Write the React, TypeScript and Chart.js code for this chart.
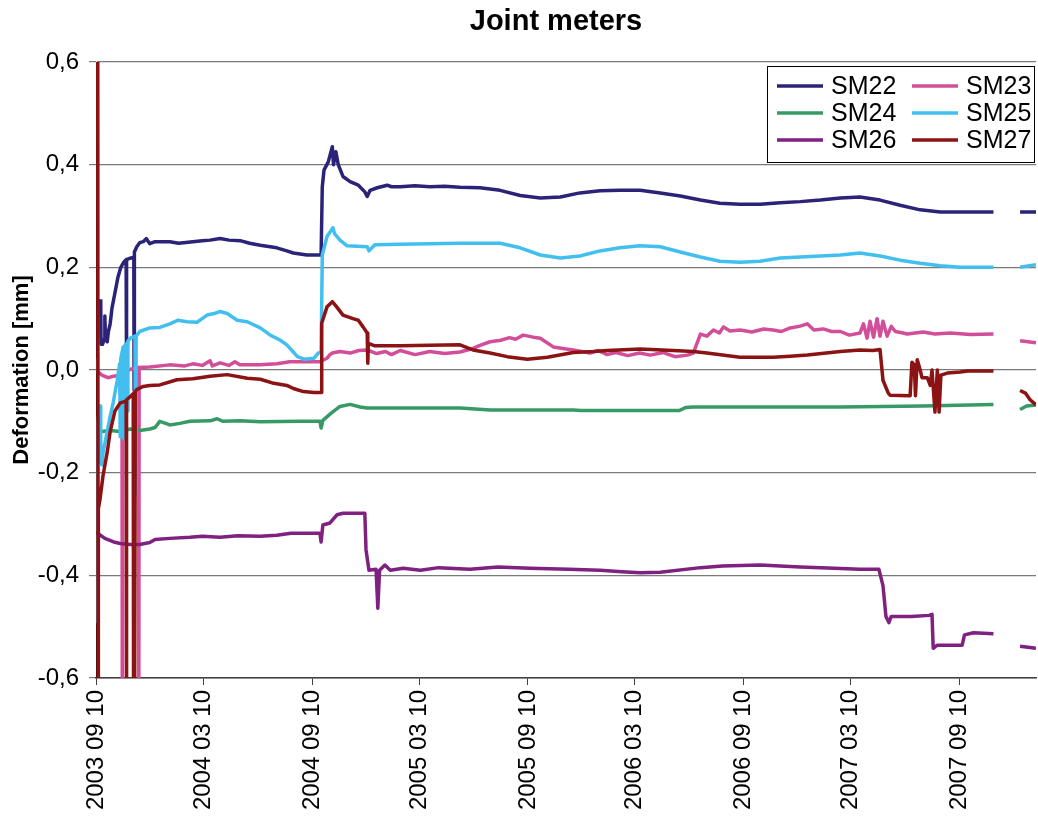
import React, { useEffect, useRef } from "react";
import { Chart, registerables } from "chart.js";

Chart.register(...registerables);

type Pt = [number, number | null];

const FAMILY = "'Liberation Sans', Arial, Helvetica, sans-serif";

const chartTitle = "Joint meters";
const yAxisTitle = "Deformation [mm]";
const seriesNames = ["SM22", "SM23", "SM24", "SM25", "SM26", "SM27"];
const seriesColors = ["#2B2377", "#D24E99", "#379A66", "#42BFEF", "#7E2180", "#8B1314"];

// days since 2003-09-10
const tickDays = [0, 182, 366, 547, 731, 912, 1096, 1277, 1461];
const tickLabels = [
  "2003 09 10",
  "2004 03 10",
  "2004 09 10",
  "2005 03 10",
  "2005 09 10",
  "2006 03 10",
  "2006 09 10",
  "2007 03 10",
  "2007 09 10",
];
const xMaxDay = 1591;
const yMin = -0.6;
const yMax = 0.6;
const yStep = 0.2;

const SM22: Pt[] = [
  [8, 0.138], [8.5, 0.05], [11, 0.05], [14, 0.06], [15, 0.105], [16, 0.06], [19, 0.055],
  [21, 0.075], [24, 0.09], [27, 0.12], [32, 0.15], [37, 0.18], [42, 0.2], [47, 0.21],
  [51, 0.215], [51.5, -0.04], [52, 0.215], [58, 0.218], [64, 0.22], [64.5, -0.04], [65, 0.23],
  [69, 0.24], [74, 0.248], [80, 0.25], [85, 0.256], [91, 0.246], [100, 0.25], [125, 0.25],
  [140, 0.247], [164, 0.25], [180, 0.252], [193, 0.253], [210, 0.256], [225, 0.253],
  [244, 0.252], [260, 0.247], [278, 0.243], [306, 0.238], [323, 0.232], [334, 0.228],
  [357, 0.224], [381, 0.224], [383, 0.357], [386, 0.39], [393, 0.405], [400, 0.435],
  [402, 0.4], [406, 0.425], [410, 0.4], [418, 0.377], [430, 0.367], [444, 0.36], [455, 0.347],
  [459, 0.338], [464, 0.35], [476, 0.355], [493, 0.36], [500, 0.357], [515, 0.357],
  [540, 0.359], [565, 0.357], [590, 0.358], [616, 0.356], [650, 0.355], [684, 0.35],
  [718, 0.34], [752, 0.335], [786, 0.337], [819, 0.345], [853, 0.349], [887, 0.35],
  [921, 0.35], [955, 0.345], [989, 0.339], [1023, 0.331], [1056, 0.325], [1090, 0.323],
  [1124, 0.323], [1158, 0.326], [1192, 0.328], [1226, 0.331], [1260, 0.335], [1293, 0.337],
  [1327, 0.331], [1361, 0.321], [1395, 0.312], [1429, 0.308], [1463, 0.308], [1519, 0.308],
  [1540, null], [1564, 0.308], [1591, 0.308],
];

const SM23: Pt[] = [
  [0, 0.02], [1, -0.002], [5, -0.005], [10, -0.01], [20, -0.015], [30, -0.012], [40, -0.01],
  [44, -0.008], [44.5, -0.6], [45, -0.006], [50, -0.003], [60, 0.002], [72, 0.005],
  [72.5, -0.6], [73, 0.005], [91, 0.006], [125, 0.01], [150, 0.008], [164, 0.012],
  [180, 0.009], [193, 0.018], [197, 0.008], [210, 0.014], [225, 0.009], [235, 0.016],
  [244, 0.01], [278, 0.01], [306, 0.012], [328, 0.016], [357, 0.016], [379, 0.016],
  [391, 0.023], [396, 0.03], [400, 0.033], [413, 0.036], [430, 0.033], [445, 0.038],
  [459, 0.039], [475, 0.032], [490, 0.036], [500, 0.03], [515, 0.038], [540, 0.03],
  [565, 0.036], [590, 0.032], [616, 0.035], [638, 0.042], [650, 0.048], [667, 0.055],
  [685, 0.058], [700, 0.063], [710, 0.06], [723, 0.068], [740, 0.064], [752, 0.062],
  [774, 0.045], [790, 0.042], [808, 0.039], [836, 0.033], [850, 0.038], [865, 0.03],
  [880, 0.034], [900, 0.028], [920, 0.033], [938, 0.029], [960, 0.034], [980, 0.026],
  [1001, 0.029], [1011, 0.033], [1023, 0.07], [1034, 0.066], [1045, 0.078], [1055, 0.072],
  [1062, 0.084], [1073, 0.076], [1090, 0.078], [1110, 0.074], [1130, 0.08], [1146, 0.078],
  [1160, 0.075], [1175, 0.082], [1190, 0.085], [1204, 0.09], [1215, 0.078], [1231, 0.08],
  [1245, 0.075], [1260, 0.075], [1275, 0.068], [1293, 0.072], [1299, 0.09], [1305, 0.062],
  [1310, 0.095], [1316, 0.064], [1322, 0.1], [1327, 0.066], [1332, 0.095], [1339, 0.066],
  [1346, 0.085], [1353, 0.075], [1366, 0.072], [1373, 0.07], [1400, 0.074], [1420, 0.07],
  [1446, 0.072], [1480, 0.069], [1519, 0.07], [1540, null], [1564, 0.057], [1591, 0.053],
];

const SM24: Pt[] = [
  [3, -0.115], [10, -0.12], [24, -0.118], [41, -0.12], [58, -0.115], [74, -0.118],
  [91, -0.115], [100, -0.112], [108, -0.1], [125, -0.107], [142, -0.104], [159, -0.1],
  [193, -0.099], [205, -0.095], [215, -0.1], [244, -0.099], [278, -0.101], [345, -0.1],
  [379, -0.1], [381, -0.113], [384, -0.098], [398, -0.084], [413, -0.071], [430, -0.067],
  [447, -0.072], [459, -0.074], [549, -0.074], [616, -0.074], [667, -0.078], [808, -0.078],
  [820, -0.079], [987, -0.079], [998, -0.073], [1011, -0.072], [1260, -0.072], [1400, -0.07],
  [1519, -0.067], [1540, null], [1564, -0.077], [1575, -0.07], [1591, -0.068],
];

const SM25: Pt[] = [
  [1, -0.47], [1.5, -0.49], [3, -0.1], [7, -0.07], [8, -0.18], [10, -0.185], [12, -0.16],
  [19, -0.12], [24, -0.09], [29, -0.064], [36, -0.02], [40, 0.012], [41, -0.13], [42, 0.022],
  [46, 0.045], [47.5, -0.135], [49, 0.048], [52, 0.052], [53, -0.08], [54, 0.056], [58, 0.062],
  [66, 0.066], [67, -0.243], [68, 0.066], [74, 0.075], [91, 0.082], [108, 0.083], [125, 0.09],
  [139, 0.097], [154, 0.094], [171, 0.093], [188, 0.107], [200, 0.11], [210, 0.114],
  [222, 0.11], [239, 0.097], [256, 0.094], [278, 0.082], [295, 0.068], [312, 0.058],
  [323, 0.049], [334, 0.035], [341, 0.026], [352, 0.021], [369, 0.023], [376, 0.033],
  [381, 0.035], [383, 0.224], [391, 0.26], [401, 0.277], [404, 0.265], [413, 0.253],
  [425, 0.242], [459, 0.24], [462, 0.232], [472, 0.244], [515, 0.245], [616, 0.247],
  [684, 0.247], [718, 0.238], [752, 0.224], [786, 0.218], [819, 0.222], [853, 0.232],
  [887, 0.238], [921, 0.242], [955, 0.24], [989, 0.23], [1023, 0.22], [1056, 0.212],
  [1090, 0.21], [1124, 0.212], [1158, 0.218], [1192, 0.22], [1226, 0.222], [1260, 0.224],
  [1293, 0.228], [1327, 0.222], [1361, 0.214], [1395, 0.208], [1429, 0.203], [1463, 0.2],
  [1519, 0.2], [1540, null], [1564, 0.2], [1591, 0.205],
];

const SM26: Pt[] = [
  [0, -0.315], [5, -0.32], [15, -0.328], [30, -0.335], [41, -0.338], [58, -0.34],
  [74, -0.34], [91, -0.336], [100, -0.33], [125, -0.328], [159, -0.326], [180, -0.324],
  [210, -0.326], [240, -0.323], [278, -0.324], [306, -0.322], [330, -0.318], [379, -0.318],
  [381, -0.335], [384, -0.302], [396, -0.298], [408, -0.282], [418, -0.279], [455, -0.279],
  [457, -0.35], [462, -0.39], [474, -0.388], [477, -0.464], [480, -0.39], [489, -0.38],
  [498, -0.39], [520, -0.386], [549, -0.39], [580, -0.385], [633, -0.388], [680, -0.384],
  [735, -0.386], [800, -0.388], [853, -0.39], [890, -0.393], [921, -0.395], [955, -0.394],
  [1023, -0.385], [1060, -0.382], [1124, -0.38], [1192, -0.384], [1250, -0.386],
  [1293, -0.388], [1325, -0.388], [1332, -0.42], [1337, -0.48], [1342, -0.492],
  [1346, -0.48], [1380, -0.48], [1410, -0.478], [1415, -0.476], [1417, -0.542],
  [1424, -0.536], [1466, -0.536], [1470, -0.516], [1485, -0.512], [1519, -0.514],
  [1540, null], [1564, -0.538], [1591, -0.542],
];

const SM27: Pt[] = [
  [3, 0.6], [3.5, -0.6], [4, -0.27], [7, -0.25], [12, -0.205], [19, -0.16],
  [24, -0.12], [32, -0.08], [41, -0.064], [47, -0.062], [51, -0.06], [51.5, -0.6],
  [52, -0.058], [58, -0.052], [63, -0.046], [63.5, -0.6], [64.5, -0.045], [65.5, -0.6],
  [66.5, -0.042], [69, -0.038], [80, -0.032], [91, -0.03], [108, -0.029], [137, -0.019],
  [164, -0.017], [193, -0.012], [222, -0.009], [256, -0.016], [278, -0.018], [301, -0.026],
  [323, -0.03], [334, -0.036], [351, -0.042], [369, -0.044], [381, -0.044], [382, 0.091],
  [391, 0.123], [400, 0.133], [406, 0.125], [418, 0.107], [435, 0.1], [444, 0.097],
  [452, 0.084], [459, 0.072], [460, 0.013], [461, 0.052], [472, 0.047], [515, 0.047],
  [616, 0.049], [638, 0.039], [667, 0.033], [696, 0.026], [730, 0.021], [764, 0.025],
  [808, 0.034], [842, 0.036], [865, 0.038], [921, 0.041], [977, 0.038], [1011, 0.036],
  [1034, 0.033], [1090, 0.025], [1146, 0.025], [1175, 0.027], [1204, 0.029], [1260, 0.036],
  [1293, 0.039], [1315, 0.038], [1327, 0.04], [1332, -0.02], [1341, -0.045], [1344, -0.049],
  [1378, -0.05], [1381, 0.015], [1385, 0.01], [1387, -0.05], [1390, 0.02], [1395, 0.0],
  [1398, -0.015], [1407, -0.015], [1412, -0.03], [1415, 0.0], [1420, -0.082], [1424, 0.0],
  [1427, -0.082], [1430, -0.01], [1441, -0.006], [1463, -0.004], [1475, -0.002],
  [1519, -0.002], [1540, null], [1564, -0.04], [1573, -0.045], [1581, -0.058], [1591, -0.068],
];

const allSeries: Pt[][] = [SM22, SM23, SM24, SM25, SM26, SM27];

const titleAndLegend = {
  id: "titleAndLegend",
  afterDatasetsDraw(chart: any) {
    const ctx: CanvasRenderingContext2D = chart.ctx;
    ctx.save();
    // title
    ctx.fillStyle = "#000000";
    ctx.font = `bold 29px ${FAMILY}`;
    ctx.textAlign = "center";
    ctx.textBaseline = "middle";
    ctx.fillText(chartTitle, 556, 22);
    // legend box
    const bx = 767.5;
    const by = 66.5;
    const bw = 267;
    const bh = 96;
    ctx.fillStyle = "#ffffff";
    ctx.fillRect(bx, by, bw, bh);
    ctx.strokeStyle = "#000000";
    ctx.lineWidth = 1;
    ctx.strokeRect(bx, by, bw, bh);
    ctx.font = `25px ${FAMILY}`;
    ctx.textBaseline = "middle";
    ctx.textAlign = "left";
    chart.data.datasets.forEach((ds: any, i: number) => {
      const col = i % 2;
      const row = Math.floor(i / 2);
      const y = 86 + row * 27;
      const lx = col === 0 ? 777 : 912;
      ctx.strokeStyle = ds.borderColor;
      ctx.lineWidth = 3.5;
      ctx.lineCap = "butt";
      ctx.beginPath();
      ctx.moveTo(lx, y);
      ctx.lineTo(lx + 46, y);
      ctx.stroke();
      ctx.fillStyle = "#000000";
      ctx.fillText(ds.label, lx + 54, y + 1);
    });
    ctx.restore();
  },
};

export default function App() {
  const canvasRef = useRef<HTMLCanvasElement | null>(null);

  useEffect(() => {
    document.body.style.margin = "0";
    document.body.style.overflow = "hidden";
    const canvas = canvasRef.current;
    if (!canvas) return;

    const chart = new Chart(canvas, {
      type: "line",
      data: {
        datasets: allSeries.map((s, i) => ({
          label: seriesNames[i],
          data: s.map(([x, y]) => ({ x, y })),
          borderColor: seriesColors[i],
          backgroundColor: seriesColors[i],
          borderWidth: 3.5,
          pointRadius: 0,
          pointHoverRadius: 0,
          tension: 0,
          spanGaps: false,
          borderJoinStyle: "round",
          borderCapStyle: "butt",
          order: seriesNames.length - i,
        })),
      },
      options: {
        animation: false,
        responsive: false,
        maintainAspectRatio: false,
        events: [],
        layout: { padding: { left: 0, right: 2, top: 62, bottom: 0 } },
        plugins: {
          legend: { display: false },
          tooltip: { enabled: false },
          title: { display: false },
        },
        scales: {
          x: {
            type: "linear",
            min: 0,
            max: xMaxDay,
            afterBuildTicks: (scale: any) => {
              scale.ticks = tickDays.map((v) => ({ value: v }));
            },
            afterFit: (scale: any) => {
              scale.height = 144;
            },
            ticks: {
              autoSkip: false,
              maxRotation: 90,
              minRotation: 90,
              padding: 5,
              color: "#000000",
              font: { family: FAMILY, size: 24 },
              callback: (v: any) => {
                const i = tickDays.indexOf(Number(v));
                return i >= 0 ? tickLabels[i] : "";
              },
            },
            grid: {
              drawOnChartArea: false,
              drawTicks: true,
              tickLength: 7,
              color: "#404040",
            },
            border: { display: true, color: "#404040", width: 1.5 },
          },
          y: {
            min: yMin,
            max: yMax,
            afterFit: (scale: any) => {
              scale.width = 96;
            },
            ticks: {
              stepSize: yStep,
              padding: 10,
              color: "#000000",
              font: { family: FAMILY, size: 24 },
              callback: (v: any) => {
                const n = Math.abs(Number(v)) < 1e-9 ? 0 : Number(v);
                return n.toFixed(1).replace(".", ",");
              },
            },
            title: {
              display: true,
              text: yAxisTitle,
              color: "#000000",
              font: { family: FAMILY, size: 22, weight: "bold" },
              padding: { top: 9, bottom: 0 },
            },
            grid: {
              color: "#7a7a7a",
              lineWidth: 1.2,
              tickLength: 7,
            },
            border: { display: true, color: "#000000", width: 1 },
          },
        },
      },
      plugins: [titleAndLegend],
    } as any);

    return () => {
      chart.destroy();
    };
  }, []);

  return (
    <div style={{ width: 1038, height: 822, background: "#ffffff" }}>
      <canvas ref={canvasRef} width={1038} height={822} style={{ display: "block" }} />
    </div>
  );
}
